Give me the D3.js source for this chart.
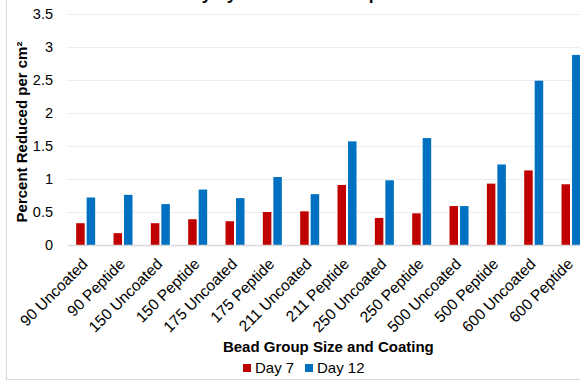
<!DOCTYPE html>
<html>
<head>
<meta charset="utf-8">
<script src="https://cdn.jsdelivr.net/npm/d3@7"></script>
<style>
html,body{margin:0;padding:0;background:#fff;overflow:hidden;}
svg{display:block;font-family:"Liberation Sans",Arial,sans-serif;}
</style>
</head>
<body>
<svg id="chart" width="580" height="385"></svg>
<script>
const categories = ["90 Uncoated","90 Peptide","150 Uncoated","150 Peptide","175 Uncoated","175 Peptide","211 Uncoated","211 Peptide","250 Uncoated","250 Peptide","500 Uncoated","500 Peptide","600 Uncoated","600 Peptide"];
const seriesNames = ["Day 7","Day 12"];
const day7 = [0.33,0.18,0.33,0.39,0.36,0.50,0.51,0.91,0.41,0.48,0.59,0.93,1.13,0.92];
const day12 = [0.72,0.76,0.62,0.84,0.71,1.03,0.77,1.57,0.98,1.62,0.59,1.22,2.49,2.88];
const yTicks = [0,0.5,1,1.5,2,2.5,3,3.5];
const colors = ["#C00000","#0070C0"];
const titleText = "Efficacy by Bead Size Group";
const xTitle = "Bead Group Size and Coating";
const yTitle = "Percent Reduced per cm²";

const svg = d3.select("#chart");
const plotL = 67, plotR = 589.7, plotT = 14, plotB = 245;

// chart border
svg.append("rect").attr("x",6.5).attr("y",-5).attr("width",620).attr("height",384.5)
  .attr("fill","none").attr("stroke","#D9D9D9").attr("stroke-width",1);

// title (cut off at top in the reference; only descenders visible)
svg.append("text").attr("x",145).attr("y",-0.5).attr("font-size","17.3px").attr("font-weight","bold")
  .attr("fill","#000").text(titleText);

const y = d3.scaleLinear().domain([0,3.5]).range([plotB,plotT]);
const x0 = d3.scaleBand().domain(categories).range([plotL,plotR]).padding(0);
const x1 = d3.scaleBand().domain(seriesNames).range([-9.5,9.5]).paddingInner(0.19);

// gridlines
svg.append("g").selectAll("line").data(yTicks.filter(d=>d>0)).join("line")
  .attr("x1",plotL).attr("x2",plotR+10)
  .attr("y1",d=>Math.round(y(d))+0.5).attr("y2",d=>Math.round(y(d))+0.5)
  .attr("stroke","#EDEDED").attr("stroke-width",1);

// y axis labels
const yAxis = d3.axisLeft(y).tickValues(yTicks).tickSize(0).tickPadding(0).tickFormat(d=>String(d));
const gy = svg.append("g").attr("transform",`translate(53,0)`).call(yAxis);
gy.select(".domain").remove();
gy.selectAll("text").attr("font-size","14.5px").attr("fill","#000").attr("font-family","Liberation Sans, Arial, sans-serif");

// bars
const data = categories.map((c,i)=>({cat:c, vals:[day7[i],day12[i]]}));
const groups = svg.append("g").selectAll("g").data(data).join("g")
  .attr("transform",d=>`translate(${x0(d.cat)+x0.bandwidth()/2},0)`);
groups.selectAll("rect").data(d=>d.vals.map((v,k)=>({s:seriesNames[k],v,k}))).join("rect")
  .attr("x",d=>x1(d.s)).attr("width",x1.bandwidth())
  .attr("y",d=>y(d.v)).attr("height",d=>y(0)-y(d.v))
  .attr("fill",d=>colors[d.k]);

// x axis
const xAxis = d3.axisBottom(x0).tickSize(0).tickPadding(0);
const gx = svg.append("g").attr("transform",`translate(0,${plotB})`).call(xAxis);
gx.select(".domain").attr("stroke","#D9D9D9").attr("stroke-width",1.3);
gx.selectAll("text").attr("font-size","15.5px").attr("fill","#000")
  .attr("font-family","Liberation Sans, Arial, sans-serif")
  .attr("text-anchor","end").attr("dy",null).attr("y",0)
  .attr("transform","translate(3,20) rotate(-45)");

// axis titles
svg.append("text").attr("x",(plotL+plotR)/2).attr("y",352).attr("text-anchor","middle")
  .attr("font-size","15px").attr("font-weight","bold").text(xTitle);
svg.append("text").attr("transform","translate(27,132) rotate(-90)").attr("text-anchor","middle")
  .attr("font-size","15px").attr("font-weight","bold").text(yTitle);

// legend
const lg = svg.append("g").attr("transform","translate(243,364)");
const items = lg.selectAll("g").data(seriesNames).join("g")
  .attr("transform",(d,i)=>`translate(${i*62},0)`);
items.append("rect").attr("width",8).attr("height",8).attr("fill",(d,i)=>colors[i]);
items.append("text").attr("x",12).attr("y",9).attr("font-size","15px").attr("fill","#000").text(d=>d);
</script>
</body>
</html>
